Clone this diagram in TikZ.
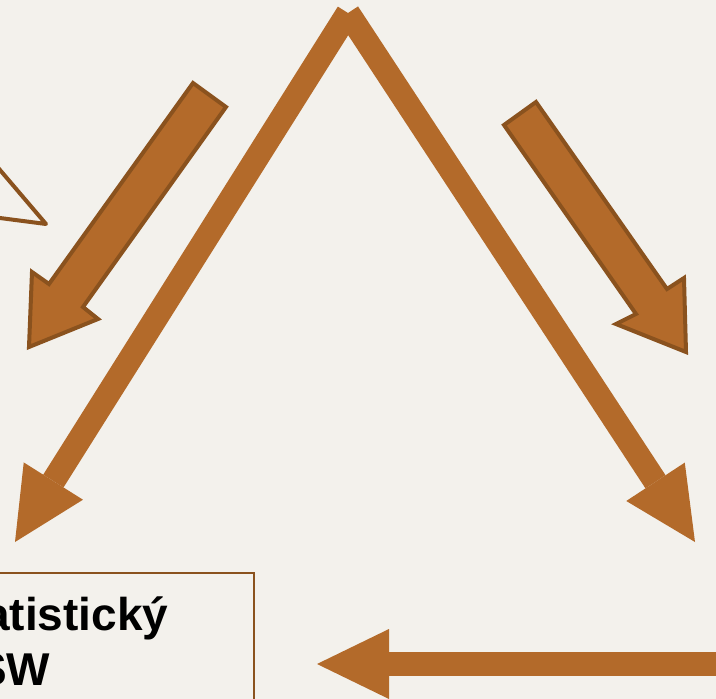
\documentclass[tikz,border=0pt]{standalone}
\usepackage{fontspec}
\setmainfont{Liberation Sans}
\usetikzlibrary{arrows.meta,positioning}
\definecolor{bgbeige}{RGB}{243,241,236}
\definecolor{rust}{RGB}{179,106,42}
\definecolor{rustdark}{RGB}{138,82,30}

\begin{document}
\begin{tikzpicture}[
  x=1pt, y=-1pt,
  bigline/.style={draw=rust, line width=24pt, -{Triangle[length=72pt,width=70pt,line width=0pt]}},
  blockarrow/.style={fill=rust, draw=rustdark, line width=4pt, line join=miter},
  boxtext/.style={font=\fontsize{46}{55}\selectfont\bfseries, inner sep=0pt, anchor=base west}
]
\fill[bgbeige] (0,0) rectangle (716,699);
\useasboundingbox (0,0) rectangle (716,699);

\coordinate (apex) at (348,13);
\coordinate (lefttip) at (15,542);
\coordinate (righttip) at (695,542);
\coordinate (bottomstart) at (730,664);
\coordinate (bottomtip) at (317,664);

\draw[bigline] (apex) -- (lefttip);
\draw[bigline] (apex) -- (righttip);
\draw[bigline] (bottomstart) -- (bottomtip);

\draw[blockarrow] (193,83) -- (226,107) -- (83,307) -- (98,319) -- (29,347) -- (32,272) -- (49,284) -- cycle;
\draw[blockarrow] (536,102) -- (667,289) -- (684,278) -- (686,352) -- (616,324) -- (636,314) -- (504,125) -- cycle;

\draw[rustdark, line width=4pt, line join=round] (-20,146.5) -- (46,224) -- (-20,215.4);

\draw[rustdark, line width=1.5pt] (-10,573) rectangle (254,720);
\node[boxtext] (statline) at (-16,630) {atistický};
\node[boxtext] (swline) at (-24,685) {SW};
\end{tikzpicture}
\end{document}
